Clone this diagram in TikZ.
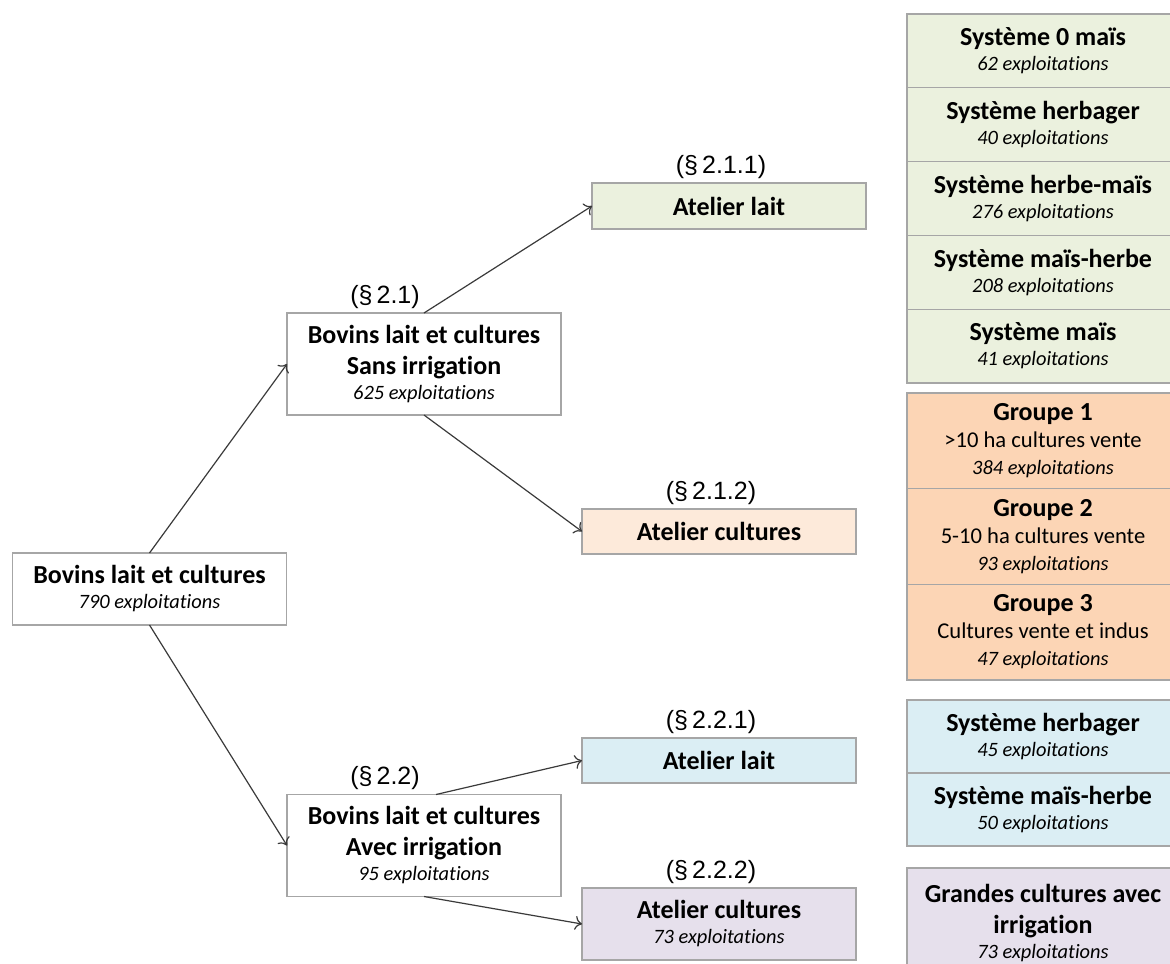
\documentclass[tikz,border=0pt]{standalone}
\usepackage{fontspec}
\setmainfont{Carlito}[Ligatures={NoCommon}]
\newfontfamily\lblfont{Liberation Sans}
\usepackage{tikz}
\usetikzlibrary{positioning, arrows.meta}

\definecolor{vert}{HTML}{EBF1DE}
\definecolor{peche}{HTML}{FDEADA}
\definecolor{saumon}{HTML}{FCD5B5}
\definecolor{bleu}{HTML}{DBEEF4}
\definecolor{lavande}{HTML}{E6E0EC}
\definecolor{bord}{HTML}{A6A6A6}
\definecolor{trait}{HTML}{3A3A3A}

\newcommand{\nbexp}[1]{{\fontsize{10.2}{12}\selectfont\mdseries\itshape #1 exploitations}}
\newcommand{\sousl}[1]{{\fontsize{11.3}{12}\selectfont\mdseries #1}}

\tikzset{
  box/.style={draw=bord, line width=0.7pt, align=center, inner sep=2pt, outer sep=0pt,
    font=\fontsize{13}{15.5}\selectfont\bfseries, minimum width=137pt},
  col/.style={box, minimum width=136pt},
  lbl/.style={font=\lblfont\fontsize{12.5}{14}\selectfont, inner sep=1pt},
  fleche/.style={-{To[length=3.5pt, width=7pt]}, draw=trait, line width=0.6pt}
}

\begin{document}
\begin{tikzpicture}[x=0.5pt, y=-0.5pt]
    \useasboundingbox (0,0) rectangle (1170,963);
    % arbre de gauche
    \node[box, minimum height=36pt] (racine) at (149.5,589) {Bovins lait et cultures\\[-3pt]\nbexp{790}};
    \node[box, minimum height=51pt] (sans) at (424,364) {Bovins lait et cultures\\Sans irrigation\\[-3pt]\nbexp{625}};
    \node[box, minimum height=51pt] (avec) at (424,845.5) {Bovins lait et cultures\\Avec irrigation\\[-3pt]\nbexp{95}};
    \node[box, fill=vert, minimum height=23pt] (lait1) at (729,206) {Atelier lait};
    \node[box, fill=peche, minimum height=22.5pt] (cult1) at (719,531.5) {Atelier cultures};
    \node[box, fill=bleu, minimum height=22.5pt] (lait2) at (719,760.5) {Atelier lait};
    \node[box, fill=lavande, minimum height=36pt] (cult2) at (719,924) {Atelier cultures\\[-3pt]\nbexp{73}};
    % renvois
    \node[lbl, above=1pt of sans, xshift=-19.5pt] (s21) {(§\,2.1)};
    \node[lbl, above=1pt of avec, xshift=-19.5pt] (s22) {(§\,2.2)};
    \node[lbl, above=1pt of lait1, xshift=-4pt] (s211) {(§\,2.1.1)};
    \node[lbl, above=1pt of cult1, xshift=-4pt] (s212) {(§\,2.1.2)};
    \node[lbl, above=1pt of lait2, xshift=-4pt] (s221) {(§\,2.2.1)};
    \node[lbl, above=1pt of cult2, xshift=-4pt] (s222) {(§\,2.2.2)};
    % colonne de droite
    \node[col, fill=vert, minimum height=36.9pt] (g1) at (1043,50.9) {Système 0 maïs\\[-3pt]\nbexp{62}};
    \node[col, fill=vert, minimum height=36.9pt, below=0pt of g1] (g2) {Système herbager\\[-3pt]\nbexp{40}};
    \node[col, fill=vert, minimum height=36.9pt, below=0pt of g2] (g3) {Système herbe-maïs\\[-3pt]\nbexp{276}};
    \node[col, fill=vert, minimum height=36.9pt, below=0pt of g3] (g4) {Système maïs-herbe\\[-3pt]\nbexp{208}};
    \node[col, fill=vert, minimum height=36.9pt, below=0pt of g4] (g5) {Système maïs\\[-3pt]\nbexp{41}};
    \node[col, fill=saumon, minimum height=47.8pt] (o1) at (1043,440.8) {Groupe 1\\[-2pt]\sousl{>10 ha cultures vente}\\[-2pt]\nbexp{384}};
    \node[col, fill=saumon, minimum height=47.8pt, below=0pt of o1] (o2) {Groupe 2\\[-2pt]\sousl{5-10 ha cultures vente}\\[-2pt]\nbexp{93}};
    \node[col, fill=saumon, minimum height=47.8pt, below=0pt of o2] (o3) {Groupe 3\\[-2pt]\sousl{Cultures vente et indus}\\[-2pt]\nbexp{47}};
    \node[col, fill=bleu, minimum height=36.5pt] (b1) at (1043,736.5) {Système herbager\\[-3pt]\nbexp{45}};
    \node[col, fill=bleu, minimum height=36.5pt, below=0pt of b1] (b2) {Système maïs-herbe\\[-3pt]\nbexp{50}};
    \node[col, fill=lavande, minimum height=55pt] (v1) at (1043,923) {Grandes cultures avec\\irrigation\\[-3pt]\nbexp{73}};
    % fleches
    \draw[fleche] (racine.north) -- (sans.west);
    \draw[fleche] (racine.south) -- (avec.west);
    \draw[fleche] (sans.north) -- (lait1.west);
    \draw[fleche] (sans.south) -- (cult1.west);
    \draw[fleche] ([xshift=6pt]avec.north) -- (lait2.west);
    \draw[fleche] (avec.south) -- (cult2.west);
\end{tikzpicture}
\end{document}
